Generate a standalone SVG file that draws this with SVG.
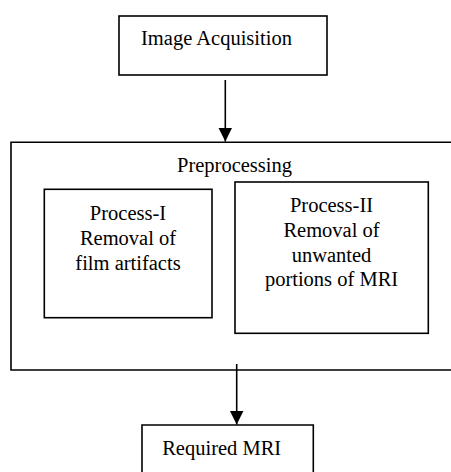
<svg xmlns="http://www.w3.org/2000/svg" width="451" height="472" viewBox="0 0 451 472">
<style>
.box{fill:none;stroke:#000;stroke-width:1.6}
.ln{fill:none;stroke:#000;stroke-width:1.6}
text{font-family:"Liberation Serif","Times New Roman",serif;font-size:20.5px;fill:#000;text-anchor:middle}
</style>
<defs>
<marker id="ah" markerWidth="14" markerHeight="15" refX="14" refY="7" orient="auto" markerUnits="userSpaceOnUse">
<path d="M0,0 L14,7 L0,14 Z" fill="#000"/>
</marker>
</defs>
<rect width="451" height="472" fill="#fff"/>
<g id="image-acquisition">
<rect class="box" x="119" y="16" width="208" height="59"/>
<text x="216.5" y="45">Image Acquisition</text>
</g>
<g id="preprocessing">
<path class="ln" d="M451,142.3 H11 V370 H451"/>
<text x="234.5" y="172">Preprocessing</text>
</g>
<g id="process-1">
<rect class="box" x="44.3" y="189.3" width="167.7" height="128.4"/>
<text x="128" y="220">Process-I</text>
<text x="128" y="245">Removal of</text>
<text x="128" y="269.5">film artifacts</text>
</g>
<g id="process-2">
<rect class="box" x="235" y="182" width="193.3" height="151.3"/>
<text x="331.5" y="212.3">Process-II</text>
<text x="331.5" y="236.8">Removal of</text>
<text x="331.5" y="261.5">unwanted</text>
<text x="331.5" y="286">portions of MRI</text>
</g>
<g id="required-mri">
<path class="ln" d="M142,480 V425 H313.3 V480"/>
<text x="221.7" y="455">Required MRI</text>
</g>
<g id="connectors">
<line class="ln" x1="225.3" y1="80" x2="225.3" y2="141.5" marker-end="url(#ah)"/>
<line class="ln" x1="236.7" y1="364" x2="236.7" y2="424.5" marker-end="url(#ah)"/>
</g>
</svg>
